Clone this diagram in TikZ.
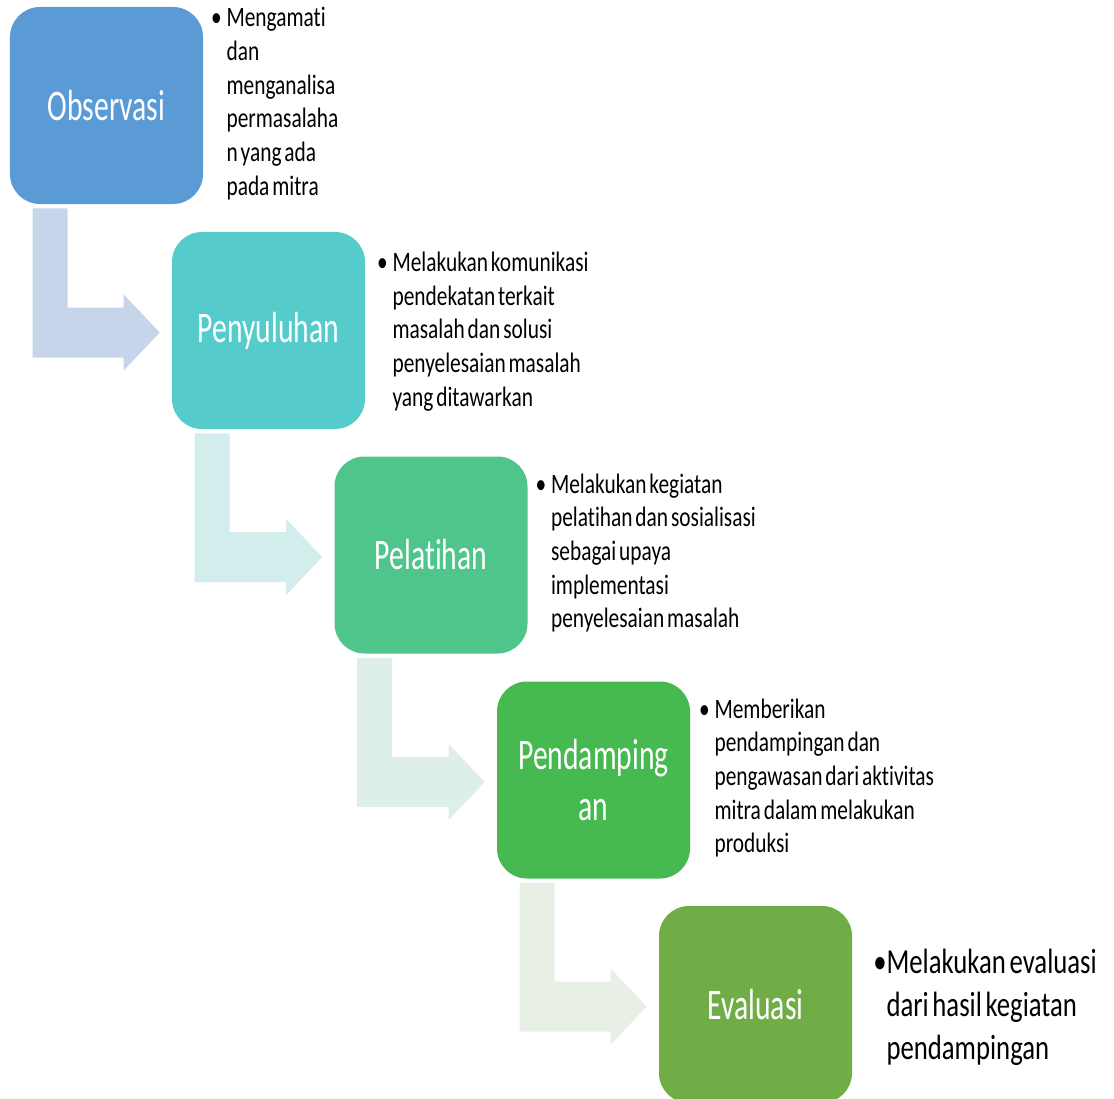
\documentclass[tikz,border=0pt]{standalone}
\usepackage{fontspec}
\setmainfont{Carlito}[FakeStretch=0.76, WordSpace=0.6, Ligatures=NoCommon]
\newfontfamily\stagefont{Carlito}[FakeStretch=0.68, Ligatures=NoCommon]
\usetikzlibrary{calc}

\definecolor{obsblue}{HTML}{5B9BD5}
\definecolor{penteal}{HTML}{55CBCB}
\definecolor{pelgreen}{HTML}{4FC58B}
\definecolor{pdmgreen}{HTML}{46B950}
\definecolor{evagreen}{HTML}{70AD47}
\definecolor{arrowa}{HTML}{C6D5EA}
\definecolor{arrowb}{HTML}{D3ECEC}
\definecolor{arrowc}{HTML}{DDEFE6}
\definecolor{arrowd}{HTML}{E8F0E5}

\tikzset{
  stage/.style={rectangle, rounded corners=7.5mm, minimum width=48.25mm,
    minimum height=49.25mm, inner sep=0pt, align=center, text=white,
    font=\stagefont\fontsize{31}{36}\selectfont},
  point/.style={anchor=west, align=left, inner sep=0pt,
    font=\fontsize{20}{24}\selectfont},
}

\begin{document}
\begin{tikzpicture}[x=0.25mm, y=-0.25mm]
\useasboundingbox (0,0) rectangle (1114,1099);

% Stages
\node[stage, fill=obsblue] (obs) at (106.5,105.5) {Observasi};
\node[stage, fill=penteal] (pen) at (268.5,330.5) {Penyuluhan};
\node[stage, fill=pelgreen] (pel) at (431,555) {Pelatihan};
\node[stage, fill=pdmgreen] (pdm) at (593.5,780) {Pendamping\\an};
\node[stage, fill=evagreen] (eva) at (755.5,1004.5) {Evaluasi};

% Bent arrows between stages
\fill[arrowa] ($(obs.south west)+(23,4)$) -- ($(obs.south west)+(58,4)$)
  |- ($(pen.west)+(-48,-23)$) -- ($(pen.west)+(-48,-36)$) -- ($(pen.west)+(-12,2)$)
  -- ($(pen.west)+(-48,40)$) -- ($(pen.west)+(-48,27)$) -| ($(obs.south west)+(23,4)$) -- cycle;
\fill[arrowb] ($(pen.south west)+(23,4)$) -- ($(pen.south west)+(58,4)$)
  |- ($(pel.west)+(-48,-23)$) -- ($(pel.west)+(-48,-36)$) -- ($(pel.west)+(-12,2)$)
  -- ($(pel.west)+(-48,40)$) -- ($(pel.west)+(-48,27)$) -| ($(pen.south west)+(23,4)$) -- cycle;
\fill[arrowc] ($(pel.south west)+(23,4)$) -- ($(pel.south west)+(58,4)$)
  |- ($(pdm.west)+(-48,-23)$) -- ($(pdm.west)+(-48,-36)$) -- ($(pdm.west)+(-12,2)$)
  -- ($(pdm.west)+(-48,40)$) -- ($(pdm.west)+(-48,27)$) -| ($(pel.south west)+(23,4)$) -- cycle;
\fill[arrowd] ($(pdm.south west)+(23,4)$) -- ($(pdm.south west)+(58,4)$)
  |- ($(eva.west)+(-48,-23)$) -- ($(eva.west)+(-48,-36)$) -- ($(eva.west)+(-12,2)$)
  -- ($(eva.west)+(-48,40)$) -- ($(eva.west)+(-48,27)$) -| ($(pdm.south west)+(23,4)$) -- cycle;

% Descriptions
\node[point] (obstext) at ($(obs.east)+(23,-2)$)
  {\llap{\textbullet\hspace{1.2mm}}Mengamati\\dan\\menganalisa\\permasalaha\\n yang ada\\pada mitra};
\node[point] (pentext) at ($(pen.east)+(27,1)$)
  {\llap{\textbullet\hspace{1.2mm}}Melakukan komunikasi\\pendekatan terkait\\masalah dan solusi\\penyelesaian masalah\\yang ditawarkan};
\node[point] (peltext) at ($(pel.east)+(23,-2)$)
  {\llap{\textbullet\hspace{1.2mm}}Melakukan kegiatan\\pelatihan dan sosialisasi\\sebagai upaya\\implementasi\\penyelesaian masalah};
\node[point] (pdmtext) at ($(pdm.east)+(24,-2)$)
  {\llap{\textbullet\hspace{1.2mm}}Memberikan\\pendampingan dan\\pengawasan dari aktivitas\\mitra dalam melakukan\\produksi};
\node[point, font=\fontsize{25}{30.5}\selectfont] (evatext) at ($(eva.east)+(34,3)$)
  {\llap{\textbullet}Melakukan evaluasi\\dari hasil kegiatan\\pendampingan};

\end{tikzpicture}
\end{document}
